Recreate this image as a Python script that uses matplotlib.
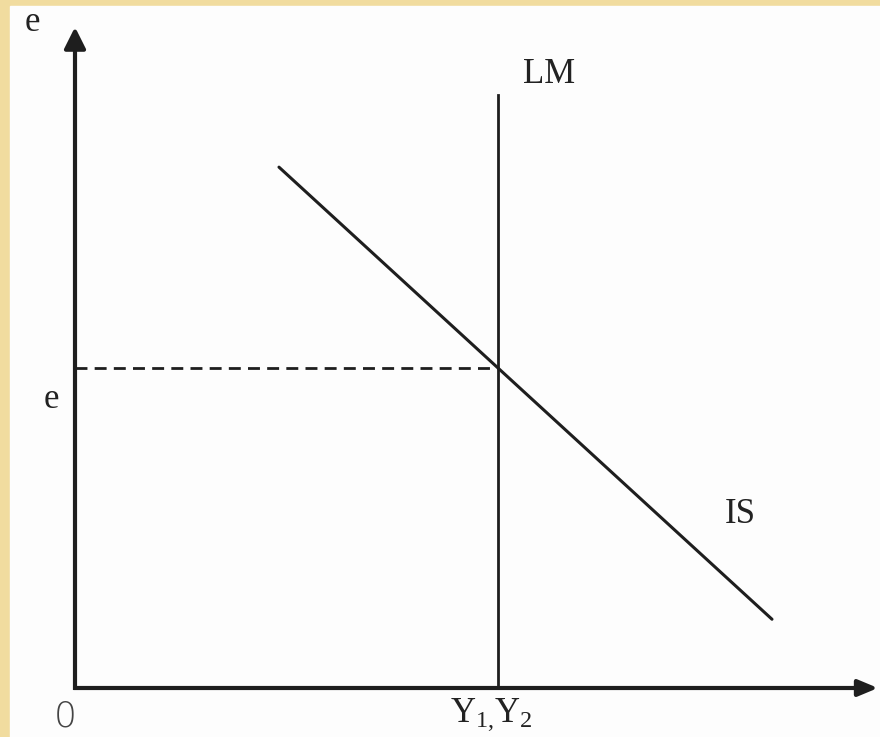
import matplotlib
matplotlib.use('Agg')
import matplotlib.pyplot as plt
from matplotlib.patches import Rectangle

plt.rcParams['font.family'] = ['Liberation Serif', 'DejaVu Serif']
plt.rcParams['mathtext.fontset'] = 'custom'
plt.rcParams['mathtext.rm'] = 'Liberation Serif'

# curves (schematic units, axes run 0..10)
lm_x = [5.27, 5.27]
lm_y = [0.0, 8.97]
is_x = [2.54, 8.68]
is_y = [7.88, 1.04]

# equilibrium: IS meets vertical LM
slope = (is_y[1] - is_y[0]) / (is_x[1] - is_x[0])
e_star = is_y[0] + slope * (lm_x[0] - is_x[0])

ink = '#1e1e1e'
txt = '#222222'

fig = plt.figure(figsize=(8.8, 7.37), dpi=100)
fig.patch.set_facecolor('#f1dc9f')
fig.add_artist(Rectangle((10 / 880, 0), 870 / 880, 731 / 737,
                         transform=fig.transFigure, color='#fdfdfd', zorder=0))

ax = fig.add_axes([75 / 880, (737 - 688) / 737, 803 / 880, 661 / 737])
ax.set_xlim(0, 10)
ax.set_ylim(0, 10)
ax.axis('off')
ax.patch.set_alpha(0)

# axes with arrow heads
arrow_x = dict(arrowstyle='-|>,head_length=12,head_width=5', mutation_scale=1,
               lw=3, color=ink, shrinkA=0, shrinkB=0, capstyle='butt')
arrow_y = dict(arrowstyle='-|>,head_length=13,head_width=6.5', mutation_scale=1,
               lw=3, color=ink, shrinkA=0, shrinkB=0, capstyle='butt')
ax.annotate('', xy=(10, 0), xytext=(-0.018, 0), arrowprops=arrow_x, annotation_clip=False)
ax.annotate('', xy=(0, 10), xytext=(0, -0.03), arrowprops=arrow_y, annotation_clip=False)

# LM and IS
ax.plot(lm_x, lm_y, color=ink, lw=2.0, clip_on=False)
ax.plot(is_x, is_y, color=ink, lw=2.2, solid_capstyle='round', clip_on=False)

# dashed equilibrium level
ax.plot([0, lm_x[0]], [e_star, e_star], color=ink, lw=2.0, dashes=(4.3, 2.6))

# labels
fs = 25
ax.text(-0.535, 9.94, 'e', fontsize=fs, color=txt, ha='center', va='baseline', clip_on=False)
ax.text(-0.30, 4.24, 'e', fontsize=fs, color=txt, ha='center', va='baseline', clip_on=False)
ax.text(5.90, 9.15, 'LM', fontsize=fs, color=txt, ha='center', va='baseline')
ax.text(8.28, 2.50, 'IS', fontsize=fs, color=txt, ha='center', va='baseline')
ax.text(5.18, -0.51, r'$\mathrm{Y_{1{,}}Y_{2}}$', fontsize=fs, color=txt,
        ha='center', va='baseline', clip_on=False)
ax.text(-0.125, -0.575, '0', fontsize=26, color='#444444', family='DejaVu Sans',
        fontweight='light', ha='center', va='baseline', clip_on=False)

fig.savefig('out.png', dpi=100, facecolor=fig.get_facecolor())
